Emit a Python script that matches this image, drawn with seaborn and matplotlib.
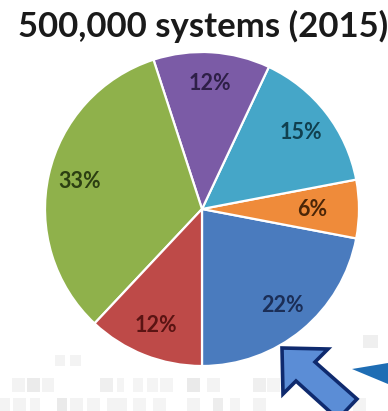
import matplotlib
matplotlib.use("Agg")
import matplotlib.pyplot as plt
from matplotlib.patches import Polygon, Rectangle
import seaborn as sns

# Market share of installed systems, counter-clockwise from 6 o'clock
shares = [22, 6, 15, 12, 33, 12]
slice_colors = ["#4A7BBE", "#EF8B3A", "#45A6C8", "#7B5BA6", "#8FB14B", "#BE4A48"]
label_colors = ["#1B2E57", "#4A2608", "#10404F", "#2E1F47", "#2C3F12", "#5A1413"]
title = "500,000 systems (2015)"

sns.set_theme(style="white")
plt.rcParams["font.family"] = ["Lato", "DejaVu Sans"]

W, H = 388, 411
fig = plt.figure(figsize=(W / 100, H / 100), dpi=100)
fig.patch.set_facecolor("white")

# Backdrop layer in pixel coordinates (faint tiles along the bottom)
bg = fig.add_axes([0, 0, 1, 1], zorder=0)
bg.set_xlim(0, W)
bg.set_ylim(H, 0)
bg.axis("off")
tiles = [
    (55, 355, 10, 11, "#F3F3F3"), (70, 355, 11, 11, "#F3F3F3"),
    (363, 335, 15, 13, "#EFEFEF"),
    (12, 378, 13, 14, "#F3F3F3"), (27, 378, 13, 14, "#EBEBEB"), (42, 378, 12, 14, "#F3F3F3"),
    (100, 378, 13, 14, "#EFEFEF"), (117, 378, 7, 14, "#F4F4F4"), (133, 378, 10, 14, "#F4F4F4"),
    (147, 378, 11, 14, "#F4F4F4"), (160, 378, 13, 14, "#F4F4F4"), (187, 378, 13, 14, "#EAEAEA"),
    (207, 378, 13, 14, "#F3F3F3"), (253, 378, 13, 14, "#EFEFEF"), (267, 378, 13, 14, "#F4F4F4"),
    (0, 398, 10, 13, "#F3F3F3"), (13, 398, 13, 13, "#F3F3F3"), (30, 398, 10, 13, "#F4F4F4"),
    (57, 398, 10, 13, "#EAEAEA"), (70, 398, 13, 13, "#F3F3F3"), (87, 398, 13, 13, "#F4F4F4"),
    (107, 398, 20, 13, "#F3F3F3"), (133, 398, 13, 13, "#F4F4F4"), (153, 398, 13, 13, "#F4F4F4"),
    (187, 398, 13, 13, "#F3F3F3"), (213, 398, 10, 13, "#EDEDED"), (230, 398, 10, 13, "#F4F4F4"),
    (253, 398, 13, 13, "#F3F3F3"), (353, 398, 13, 13, "#F3F3F3"),
]
for x, y, w, h, c in tiles:
    bg.add_patch(Rectangle((x, y), w, h, facecolor=c, edgecolor="none"))

# Pie chart
cx, cy, r = 202, 209, 157
ax = fig.add_axes([(cx - r) / W, (H - cy - r) / H, 2 * r / W, 2 * r / H], zorder=1)
wedges, _, autotexts = ax.pie(
    shares,
    colors=slice_colors,
    startangle=-90,
    counterclock=True,
    autopct="%d%%",
    pctdistance=0.8,
    wedgeprops=dict(edgecolor="white", linewidth=1.6),
    textprops=dict(fontsize=15.5, fontweight="bold"),
)
for t, c in zip(autotexts, label_colors):
    t.set_color(c)
# the narrow slice keeps its label a little closer to the centre
tx, ty = autotexts[1].get_position()
autotexts[1].set_position((tx * 0.88, ty * 0.88))
ax.set_xlim(-1, 1)
ax.set_ylim(-1, 1)
ax.set_aspect("equal")

fig.text(18 / W, 1 - 37 / H, title, ha="left", va="baseline",
         fontsize=25, color="#1A1A1A", fontweight="bold")

# Overlay: pointer arrow and swoosh at the lower right
fg = fig.add_axes([0, 0, 1, 1], zorder=2)
fg.set_xlim(0, W)
fg.set_ylim(H, 0)
fg.axis("off")
fg.patch.set_alpha(0)
arrow = [(282, 348), (328, 349), (315, 362), (357, 399), (338, 419), (296, 381), (283, 394)]
fg.add_patch(Polygon(arrow, closed=True, facecolor="#5B8DD6", edgecolor="#0F2A6E",
                     linewidth=2.6, joinstyle="miter"))
fg.add_patch(Polygon([(352, 369), (388, 363), (388, 384)], closed=True,
                     facecolor="#1E6DB4", edgecolor="none"))

fig.savefig("out.png", dpi=100, facecolor="white")
